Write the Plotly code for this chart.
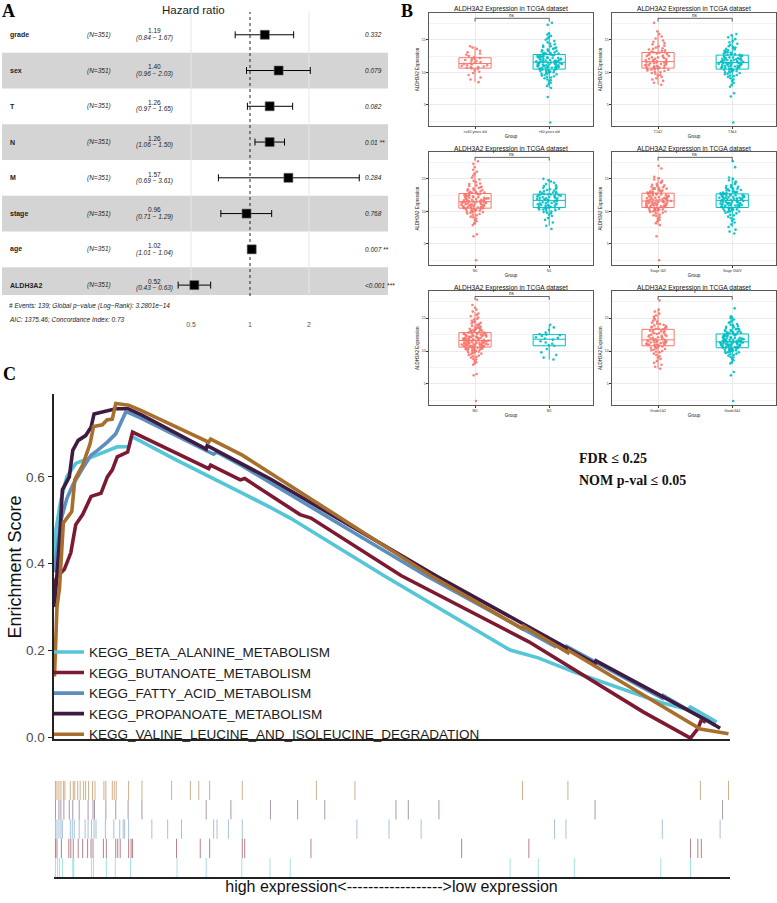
import plotly.graph_objects as go

W, H = 777, 903
def fx(px): return px / W
def fy(py): return 1 - py / H

FONT = "Liberation Sans, Arial, sans-serif"
SERIF = "Liberation Serif, Times New Roman, serif"

# ---------------- Panel A data (multivariate Cox) ----------------
VARS = ["grade", "sex", "T", "N", "M", "stage", "age", "ALDH3A2"]
N_OBS = [351, 351, 351, 351, 351, 351, 351, 351]
HR = [1.19, 1.40, 1.26, 1.26, 1.57, 0.96, 1.02, 0.52]
HR_LO = [0.84, 0.96, 0.97, 1.06, 0.69, 0.71, 1.01, 0.43]
HR_HI = [1.67, 2.03, 1.65, 1.50, 3.61, 1.29, 1.04, 0.63]
PVAL = ["0.332", "0.079", "0.082", "0.01 **", "0.284", "0.768", "0.007 **", "<0.001 ***"]
HR_TICKS = [0.5, 1, 2]
FOOT1 = "# Events: 139; Global p\u2212value (Log\u2212Rank): 3.2801e\u221214"
FOOT2 = "AIC: 1375.46; Concordance Index: 0.73"

# ---------------- Panel B data (ALDH3A2 expression by group) ----------------
AGE_LE60 = [8.5, 8.9, 9.2, 9.6, 9.9, 10.1, 10.3, 10.5, 10.6,
            10.7, 10.8, 10.8, 10.9, 11.0, 11.1, 11.1, 11.2, 11.3,
            11.4, 11.5, 11.6, 11.7, 11.8, 11.9, 12.0, 12.1, 12.2,
            12.3, 12.5, 12.7, 12.9, 13.1, 13.3, 13.6, 13.8, 14.0]
AGE_GT60 = [2.3, 6.2, 7.6, 7.9, 8.2, 8.4, 8.6, 8.8, 8.9, 9.1, 9.2, 9.3, 9.4, 9.5, 9.6, 9.7, 9.8, 9.8, 9.9, 10.0,
            10.0, 10.1, 10.1, 10.2, 10.2, 10.3, 10.3, 10.4, 10.4, 10.5,
            10.5, 10.6, 10.6, 10.7, 10.7, 10.7, 10.8, 10.8, 10.8, 10.9, 10.9, 10.9, 11.0, 11.0, 11.0,
            11.1, 11.1, 11.1, 11.2, 11.2, 11.2, 11.3, 11.3, 11.3, 11.4, 11.4, 11.4, 11.5, 11.5, 11.5,
            11.6, 11.6, 11.6, 11.7, 11.7, 11.7, 11.8, 11.8, 11.8, 11.9, 11.9, 12.0, 12.0, 12.0, 12.1,
            12.1, 12.2, 12.2, 12.2, 12.3, 12.3, 12.4, 12.4, 12.4, 12.5, 12.5, 12.6, 12.6, 12.7, 12.7,
            12.8, 12.8, 12.9, 12.9, 13.0, 13.0, 13.1, 13.2, 13.3, 13.3, 13.4, 13.5, 13.6, 13.7, 13.8,
            13.9, 14.0, 14.1, 14.3, 14.4, 14.6, 14.8, 15.0, 15.2, 15.4, 15.6, 15.8, 16.0, 17.3, 17.6]
T12 = [8.1, 8.4, 8.7, 8.9, 9.1, 9.3, 9.5, 9.6, 9.8, 9.9, 10.0, 10.1, 10.2, 10.3, 10.4, 10.4, 10.5, 10.5, 10.6, 10.6,
       10.7, 10.7, 10.8, 10.8, 10.9, 10.9, 11.0, 11.0, 11.1, 11.1, 11.2, 11.2, 11.3, 11.3, 11.4, 11.4, 11.5, 11.5, 11.6, 11.6,
       11.7, 11.7, 11.8, 11.9, 11.9, 12.0, 12.1, 12.1, 12.2, 12.3, 12.3, 12.4, 12.5, 12.5, 12.6, 12.7, 12.8, 12.8, 12.9, 13.0,
       13.1, 13.1, 13.2, 13.3, 13.4, 13.5, 13.6, 13.7, 13.8, 14.0, 14.1, 14.3, 14.5, 14.7, 14.9, 15.2, 15.5, 15.9, 16.3, 17.6]
T34 = [2.3, 6.3, 6.8, 7.8, 8.1, 8.4, 8.7, 8.9, 9.1, 9.3, 9.4, 9.5, 9.6, 9.7, 9.8, 9.9, 10.0, 10.0, 10.1, 10.2, 10.2, 10.3, 10.4, 10.4, 10.5,
       10.5, 10.6, 10.6, 10.7, 10.7, 10.8, 10.8, 10.8, 10.9, 10.9, 11.0, 11.0, 11.0, 11.1, 11.1, 11.2, 11.2, 11.2, 11.3, 11.3, 11.3, 11.4, 11.4, 11.4, 11.5,
       11.5, 11.6, 11.6, 11.6, 11.7, 11.7, 11.8, 11.8, 11.8, 11.9, 11.9, 12.0, 12.0, 12.0, 12.1, 12.1, 12.2, 12.2, 12.3, 12.3, 12.4, 12.4, 12.5, 12.5, 12.6,
       12.7, 12.7, 12.8, 12.8, 12.9, 13.0, 13.0, 13.1, 13.2, 13.3, 13.4, 13.5, 13.6, 13.7, 13.8, 13.9, 14.0, 14.2, 14.4, 14.6, 14.8, 15.1, 15.4, 15.7, 15.9]
N0 = [2.5, 6.2, 6.5, 7.9, 8.2, 8.5, 8.7, 8.9, 9.1, 9.2, 9.4, 9.5, 9.6, 9.7, 9.8, 9.9, 9.9, 10.0, 10.0, 10.1, 10.1, 10.2, 10.2, 10.3, 10.3, 10.4, 10.4, 10.4, 10.5, 10.5,
      10.5, 10.6, 10.6, 10.6, 10.7, 10.7, 10.7, 10.8, 10.8, 10.8, 10.9, 10.9, 10.9, 11.0, 11.0, 11.0, 11.1, 11.1, 11.1, 11.2, 11.2, 11.2, 11.3, 11.3, 11.3, 11.4, 11.4, 11.4, 11.5, 11.5,
      11.5, 11.6, 11.6, 11.6, 11.7, 11.7, 11.7, 11.8, 11.8, 11.9, 11.9, 11.9, 12.0, 12.0, 12.0, 12.1, 12.1, 12.2, 12.2, 12.2, 12.3, 12.3, 12.4, 12.4, 12.5, 12.5, 12.6, 12.6, 12.7, 12.7,
      12.8, 12.8, 12.9, 12.9, 13.0, 13.0, 13.1, 13.2, 13.3, 13.3, 13.4, 13.5, 13.6, 13.7, 13.8, 13.9, 14.0, 14.2, 14.3, 14.5, 14.7, 14.9, 15.2, 15.5, 15.8, 16.1, 16.4, 16.8, 17.3, 17.7]
N1 = [7.3, 7.8, 8.3, 8.7, 9.0, 9.3, 9.5, 9.7, 9.8, 9.9, 10.0, 10.1, 10.2, 10.3, 10.3, 10.4, 10.4, 10.5, 10.5, 10.6,
      10.6, 10.7, 10.7, 10.8, 10.8, 10.9, 10.9, 11.0, 11.0, 11.1, 11.1, 11.2, 11.2, 11.3, 11.3, 11.4, 11.5, 11.5, 11.6, 11.7,
      11.7, 11.8, 11.8, 11.9, 11.9, 12.0, 12.0, 12.1, 12.1, 12.2, 12.2, 12.3, 12.3, 12.4, 12.4, 12.5, 12.5, 12.6, 12.6, 12.6,
      12.7, 12.8, 12.8, 12.9, 13.0, 13.0, 13.1, 13.2, 13.3, 13.4, 13.5, 13.6, 13.7, 13.9, 14.0, 14.2, 14.4, 14.6, 14.8, 15.0]
STAGE12 = [2.5, 6.2, 7.9, 8.2, 8.5, 8.7, 8.9, 9.1, 9.3, 9.4, 9.5, 9.7, 9.8, 9.9, 10.0, 10.0, 10.1, 10.1, 10.2, 10.2, 10.3, 10.3, 10.4, 10.4, 10.5, 10.5, 10.6,
           10.6, 10.7, 10.7, 10.7, 10.8, 10.8, 10.8, 10.9, 10.9, 10.9, 11.0, 11.0, 11.0, 11.1, 11.1, 11.1, 11.2, 11.2, 11.3, 11.3, 11.3, 11.4, 11.4, 11.4, 11.5, 11.5, 11.6, 11.6,
           11.6, 11.7, 11.7, 11.7, 11.8, 11.8, 11.9, 11.9, 11.9, 12.0, 12.0, 12.1, 12.1, 12.1, 12.2, 12.2, 12.3, 12.3, 12.4, 12.4, 12.5, 12.5, 12.6, 12.6, 12.7, 12.7, 12.8, 12.8,
           12.9, 12.9, 13.0, 13.0, 13.1, 13.2, 13.2, 13.3, 13.4, 13.5, 13.5, 13.6, 13.6, 13.7, 13.8, 13.9, 14.0, 14.1, 14.2, 14.4, 14.5, 14.7, 14.9, 15.1, 15.3, 16.6, 17.0]
STAGE34 = [6.6, 6.9, 7.2, 7.6, 8.0, 8.3, 8.6, 8.8, 9.0, 9.2, 9.4, 9.5, 9.7, 9.8, 9.9, 10.0, 10.0, 10.1, 10.2, 10.2, 10.3, 10.3, 10.4, 10.4, 10.5, 10.5, 10.6,
           10.6, 10.7, 10.7, 10.7, 10.8, 10.8, 10.9, 10.9, 10.9, 11.0, 11.0, 11.0, 11.1, 11.1, 11.2, 11.2, 11.2, 11.3, 11.3, 11.3, 11.4, 11.4, 11.5, 11.5, 11.5, 11.6, 11.6, 11.7,
           11.7, 11.8, 11.8, 11.8, 11.9, 11.9, 11.9, 12.0, 12.0, 12.0, 12.1, 12.1, 12.1, 12.2, 12.2, 12.2, 12.3, 12.3, 12.3, 12.4, 12.4, 12.5, 12.5, 12.5, 12.6, 12.6, 12.6, 12.7,
           12.7, 12.8, 12.8, 12.9, 12.9, 13.0, 13.0, 13.1, 13.2, 13.2, 13.3, 13.4, 13.5, 13.5, 13.6, 13.7, 13.8, 13.9, 14.0, 14.2, 14.4, 14.6, 14.8, 15.0, 15.2, 16.8, 17.7]
M0 = [2.4, 6.3, 6.5, 7.9, 8.1, 8.3, 8.5, 8.7, 8.8, 9.0, 9.1, 9.2, 9.3, 9.4, 9.5, 9.6, 9.7, 9.8, 9.8, 9.9, 9.9, 10.0, 10.0, 10.1, 10.1, 10.2, 10.2, 10.3, 10.3, 10.3, 10.4, 10.4, 10.4, 10.5, 10.5, 10.5, 10.6,
      10.6, 10.6, 10.7, 10.7, 10.7, 10.7, 10.8, 10.8, 10.8, 10.8, 10.9, 10.9, 10.9, 10.9, 11.0, 11.0, 11.0, 11.0, 11.1, 11.1, 11.1, 11.1, 11.2, 11.2, 11.2, 11.3, 11.3, 11.3, 11.3, 11.4, 11.4, 11.4, 11.5, 11.5, 11.5, 11.5, 11.6, 11.6,
      11.6, 11.7, 11.7, 11.7, 11.7, 11.8, 11.8, 11.8, 11.9, 11.9, 11.9, 11.9, 12.0, 12.0, 12.0, 12.1, 12.1, 12.1, 12.2, 12.2, 12.2, 12.3, 12.3, 12.3, 12.4, 12.4, 12.4, 12.5, 12.5, 12.5, 12.6, 12.6, 12.6, 12.7, 12.7, 12.7, 12.8, 12.8,
      12.9, 12.9, 12.9, 13.0, 13.0, 13.1, 13.1, 13.2, 13.2, 13.3, 13.3, 13.4, 13.4, 13.5, 13.6, 13.6, 13.7, 13.8, 13.9, 14.0, 14.1, 14.2, 14.3, 14.4, 14.5, 14.6, 14.8, 14.9, 15.1, 15.3, 15.5, 15.7, 16.0, 16.3, 16.6, 17.0, 17.8]
M1 = [8.7, 9.0, 9.4, 9.8, 10.3, 10.8, 10.9, 11.1, 11.3, 11.5, 11.7, 11.9, 12.0, 12.1, 12.3, 12.4, 12.5, 12.6, 12.8, 13.2, 13.6, 14.0]
GRADE12 = [7.3, 7.6, 7.9, 8.2, 8.5, 8.8, 9.0, 9.2, 9.4, 9.6, 9.8, 9.9, 10.0, 10.1, 10.2, 10.3, 10.4, 10.5, 10.6, 10.6, 10.7, 10.8,
           10.8, 10.9, 10.9, 10.9, 11.0, 11.0, 11.0, 11.1, 11.1, 11.1, 11.2, 11.2, 11.3, 11.3, 11.3, 11.4, 11.4, 11.5, 11.5, 11.5, 11.6, 11.6, 11.7,
           11.7, 11.8, 11.9, 11.9, 12.0, 12.1, 12.1, 12.2, 12.3, 12.3, 12.4, 12.5, 12.5, 12.6, 12.7, 12.7, 12.8, 12.9, 13.0, 13.0, 13.1, 13.2, 13.3,
           13.4, 13.4, 13.5, 13.6, 13.6, 13.7, 13.8, 13.9, 14.0, 14.1, 14.2, 14.3, 14.5, 14.6, 14.8, 15.0, 15.2, 15.4, 15.7, 16.0, 16.3, 17.7]
GRADE34 = [2.4, 6.3, 6.8, 8.1, 8.3, 8.6, 8.8, 9.0, 9.1, 9.3, 9.4, 9.5, 9.6, 9.7, 9.8, 9.8, 9.9, 9.9, 10.0, 10.0, 10.1, 10.1, 10.2, 10.2, 10.3, 10.3, 10.4, 10.4, 10.5, 10.5,
           10.5, 10.6, 10.6, 10.6, 10.7, 10.7, 10.7, 10.8, 10.8, 10.8, 10.9, 10.9, 10.9, 10.9, 11.0, 11.0, 11.0, 11.1, 11.1, 11.1, 11.2, 11.2, 11.2, 11.3, 11.3, 11.3, 11.3, 11.4, 11.4, 11.4,
           11.4, 11.5, 11.5, 11.5, 11.6, 11.6, 11.6, 11.7, 11.7, 11.7, 11.8, 11.8, 11.8, 11.9, 11.9, 11.9, 12.0, 12.0, 12.0, 12.1, 12.1, 12.2, 12.2, 12.3, 12.3, 12.4, 12.4, 12.5, 12.5, 12.6,
           12.6, 12.7, 12.7, 12.8, 12.8, 12.9, 12.9, 13.0, 13.0, 13.1, 13.2, 13.2, 13.3, 13.4, 13.4, 13.5, 13.6, 13.7, 13.8, 13.9, 14.0, 14.1, 14.3, 14.4, 14.6, 14.8, 15.0, 15.1, 15.3, 16.5]

B_CATS = [["<=60 years old", ">60 years old"], ["T1&2", "T3&4"], ["N0", "N1"],
          ["Stage I&II", "Stage III&IV"], ["M0", "M1"], ["Grade1&2", "Grade3&4"]]
B_GROUPS = [(AGE_LE60, AGE_GT60), (T12, T34), (N0, N1), (STAGE12, STAGE34), (M0, M1), (GRADE12, GRADE34)]
B_SIG = ["ns", "ns", "ns", "ns", "ns", "*"]
B_TITLE = "ALDH3A2 Expression in TCGA dataset"
B_YTICKS = [5, 10, 15]

# ---------------- Panel C data (GSEA running enrichment scores) ----------------
GSEA_NAMES = ["KEGG_BETA_ALANINE_METABOLISM", "KEGG_BUTANOATE_METABOLISM", "KEGG_FATTY_ACID_METABOLISM",
              "KEGG_PROPANOATE_METABOLISM", "KEGG_VALINE_LEUCINE_AND_ISOLEUCINE_DEGRADATION"]
ES_BETA_X = [0, 3, 13, 25, 43, 77, 107, 127, 151, 156, 248, 307, 379, 436, 477, 667, 922, 979, 1052, 1227, 1282, 1287, 1340]
ES_BETA_Y = [0.40, 0.479, 0.547, 0.60, 0.631, 0.646, 0.661, 0.669, 0.670, 0.693, 0.638, 0.605, 0.563, 0.530, 0.505, 0.372, 0.201, 0.183, 0.150, 0.080, 0.064, 0.070, 0.035]
ES_BUTA_X = [0, 2, 5, 14, 20, 33, 43, 57, 74, 94, 107, 117, 127, 148, 158, 312, 316, 376, 385, 497, 519, 702, 824, 960, 1192, 1287, 1302, 1309, 1318]
ES_BUTA_Y = [0.33, 0.36, 0.37, 0.38, 0.387, 0.425, 0.490, 0.513, 0.555, 0.562, 0.600, 0.616, 0.646, 0.657, 0.703, 0.619, 0.627, 0.593, 0.596, 0.513, 0.505, 0.372, 0.300, 0.220, 0.058, -0.002, 0.020, 0.040, 0.035]
ES_FATTY_X = [0, 8, 13, 25, 37, 53, 74, 87, 107, 124, 134, 144, 150, 175, 322, 329, 380, 752, 1012, 1014, 1035, 1037, 1230, 1232, 1337]
ES_FATTY_Y = [0.38, 0.46, 0.50, 0.55, 0.581, 0.612, 0.650, 0.661, 0.680, 0.699, 0.722, 0.749, 0.748, 0.735, 0.652, 0.657, 0.625, 0.372, 0.210, 0.216, 0.203, 0.209, 0.090, 0.096, 0.027]
ES_PROP_X = [0, 10, 16, 23, 30, 37, 48, 63, 74, 80, 104, 124, 149, 177, 307, 309, 437, 772, 1094, 1096, 1322, 1347]
ES_PROP_Y = [0.30, 0.45, 0.570, 0.584, 0.600, 0.661, 0.684, 0.695, 0.714, 0.745, 0.752, 0.757, 0.757, 0.742, 0.664, 0.672, 0.595, 0.372, 0.170, 0.176, 0.038, 0.021]
ES_VAL_X = [0, 5, 10, 18, 35, 41, 57, 72, 79, 97, 106, 117, 124, 150, 177, 312, 316, 380, 762, 947, 949, 1039, 1041, 1307, 1364]
ES_VAL_Y = [0.14, 0.30, 0.342, 0.494, 0.520, 0.593, 0.627, 0.676, 0.716, 0.720, 0.731, 0.733, 0.769, 0.765, 0.752, 0.680, 0.687, 0.650, 0.372, 0.250, 0.256, 0.195, 0.200, 0.019, 0.008]
HITS_BETA = [2, 6, 10, 16, 37, 39, 75, 79, 105, 123, 154, 248, 307, 379, 436, 477, 922, 979, 1052, 1227, 1287]
HITS_BUTA = [2, 5, 14, 29, 33, 38, 48, 57, 67, 74, 78, 99, 105, 124, 128, 133, 150, 155, 158, 247, 295, 314, 380, 385, 519, 824, 960, 1287, 1302, 1309]
HITS_FATTY = [2, 5, 9, 13, 16, 32, 36, 40, 50, 62, 68, 75, 80, 84, 103, 120, 132, 139, 142, 150, 197, 229, 257, 322, 329, 352, 380, 612, 677, 742, 1012, 1035, 1230, 1347]
HITS_PROP = [2, 9, 13, 19, 30, 37, 50, 68, 78, 81, 104, 124, 149, 177, 307, 357, 437, 492, 547, 691, 716, 778, 1094, 1352]
HITS_VAL = [2, 5, 9, 13, 18, 21, 32, 38, 41, 47, 52, 59, 63, 69, 77, 82, 100, 104, 117, 121, 125, 150, 177, 237, 275, 292, 314, 380, 530, 608, 947, 1039, 1307, 1364]
N_GENES = 1364
ES_TICKS = [0.0, 0.2, 0.4, 0.6]
RANK_LABEL = "high expression<------------------>low expression"

# ---------------- styles ----------------
RED, CYAN = "#F8766D", "#00BFC4"
GSEA_COLORS = ["#55C6D8", "#7C1A31", "#5C8FBF", "#3E1B41", "#A86E2D"]
RUG_COLORS = ["rgba(85,198,216,0.55)", "rgba(124,26,49,0.55)", "rgba(92,143,191,0.55)",
              "rgba(62,27,65,0.45)", "rgba(168,110,45,0.55)"]

fig = go.Figure()
shapes, annos = [], []

# ================= Panel A =================
rows = list(range(len(VARS)))
fig.add_trace(go.Scatter(
    x=HR, y=rows, mode="markers", xaxis="x", yaxis="y", showlegend=False, hoverinfo="skip",
    marker=dict(symbol="square", size=9, color="black", line=dict(color="#666", width=0.6)),
    error_x=dict(type="data", symmetric=False,
                 array=[h - m for h, m in zip(HR_HI, HR)],
                 arrayminus=[m - l for m, l in zip(HR, HR_LO)],
                 color="black", thickness=1, width=3.5)))

for i in rows:
    if i % 2 == 1:
        shapes.append(dict(type="rect", xref="paper", yref="y", x0=fx(2), x1=fx(388),
                           y0=i - 0.5, y1=(i + 0.5 if i < 7 else i + 0.28),
                           fillcolor="#d4d4d4", line=dict(width=0), layer="below"))
for v in (0.5, 2):
    shapes.append(dict(type="line", xref="x", yref="paper", x0=v, x1=v, y0=fy(298), y1=fy(12),
                       line=dict(color="#e6e6e6", width=1), layer="below"))
shapes.append(dict(type="line", xref="x", yref="paper", x0=1, x1=1, y0=fy(298), y1=fy(12),
                   line=dict(color="#222", width=1, dash="dot"), layer="below"))

small = dict(family=FONT, size=6.5, color="#222")
for i, v in enumerate(VARS):
    annos.append(dict(xref="paper", yref="y", x=fx(8), y=i, text="<b>%s</b>" % v, showarrow=False,
                      xanchor="left", yanchor="middle", font=dict(family=FONT, size=7, color="#222")))
    annos.append(dict(xref="paper", yref="y", x=fx(85), y=i, text="<i>(N=%d)</i>" % N_OBS[i], showarrow=False,
                      xanchor="left", yanchor="middle", font=small))
    annos.append(dict(xref="paper", yref="y", x=fx(154), y=i, yshift=3.8, text="%.2f" % HR[i], showarrow=False,
                      xanchor="center", yanchor="middle", font=small))
    annos.append(dict(xref="paper", yref="y", x=fx(154), y=i, yshift=-3.2,
                      text="<i>(%.2f \u2212 %.2f)</i>" % (HR_LO[i], HR_HI[i]), showarrow=False,
                      xanchor="center", yanchor="middle", font=small))
    annos.append(dict(xref="paper", yref="y", x=fx(363), y=i, text="<i>%s</i>" % PVAL[i], showarrow=False,
                      xanchor="left", yanchor="middle", font=small))
annos.append(dict(xref="paper", yref="paper", x=fx(193), y=fy(10), text="Hazard ratio", showarrow=False,
                  xanchor="center", yanchor="middle", font=dict(family=FONT, size=11.5, color="#222")))
annos.append(dict(xref="paper", yref="paper", x=fx(7), y=fy(308.5), text="<i>%s</i>" % FOOT1, showarrow=False,
                  xanchor="left", yanchor="middle", font=small))
annos.append(dict(xref="paper", yref="paper", x=fx(7), y=fy(321.5), text="<i>%s</i>" % FOOT2, showarrow=False,
                  xanchor="left", yanchor="middle", font=small))

layout_axes = {}
layout_axes["xaxis"] = dict(domain=[fx(140), fx(385)], anchor="y", type="log",
                            range=[(140 - 250) / 196.0, (385 - 250) / 196.0],
                            tickvals=HR_TICKS, ticktext=[str(t) for t in HR_TICKS],
                            showgrid=False, zeroline=False, showline=False,
                            ticks="outside", ticklen=15, tickcolor="rgba(0,0,0,0)",
                            tickfont=dict(family=FONT, size=7, color="#555"))
layout_axes["yaxis"] = dict(domain=[fy(305), fy(17)], anchor="x", range=[7.5, -0.5], visible=False)

# ================= Panel B =================
COLS = [(429, 593), (612, 776)]
ROWS = [(13, 127), (153, 267), (293, 408)]
YR = [1.74, 19.13]
for k in range(6):
    n = k + 2
    c0, c1 = COLS[k % 2]
    r0, r1 = ROWS[k // 2]
    cats = B_CATS[k]
    for g, col in zip(range(2), (RED, CYAN)):
        vals = B_GROUPS[k][g]
        fig.add_trace(go.Box(
            x=[cats[g]] * len(vals), y=vals, xaxis="x%d" % n, yaxis="y%d" % n,
            boxpoints="all", jitter=0.85, pointpos=0, whiskerwidth=0,
            marker=dict(size=2.6, color=col, opacity=0.9),
            line=dict(color=col, width=1), fillcolor="rgba(255,255,255,0)",
            showlegend=False, hoverinfo="skip"))
    frame = dict(showline=True, mirror=True, linecolor="#5a5a5a", linewidth=1.3, zeroline=False)
    layout_axes["xaxis%d" % n] = dict(domain=[fx(c0), fx(c1)], anchor="y%d" % n, type="category",
                                      categoryorder="array", categoryarray=cats, range=[-0.62, 1.59],
                                      showgrid=True, gridcolor="#ebebeb", gridwidth=0.6,
                                      ticks="outside", ticklen=1.5, tickwidth=0.5, tickcolor="#333",
                                      tickfont=dict(family=FONT, size=3.5, color="#333"),
                                      title=dict(text="Group", font=dict(family=FONT, size=4.5, color="#111"), standoff=1),
                                      **frame)
    layout_axes["yaxis%d" % n] = dict(domain=[fy(r1), fy(r0)], anchor="x%d" % n, range=YR,
                                      tickvals=B_YTICKS, showgrid=True, gridcolor="#ebebeb", gridwidth=0.6,
                                      minor=dict(dtick=2.5, tick0=0, showgrid=True, gridcolor="#f3f3f3", gridwidth=0.5),
                                      ticks="outside", ticklen=1.5, tickwidth=0.5, tickcolor="#333",
                                      tickfont=dict(family=FONT, size=3.5, color="#333"),
                                      title=dict(text="ALDH3A2 Expression", font=dict(family=FONT, size=4.5, color="#111"), standoff=2),
                                      **frame)
    annos.append(dict(xref="paper", yref="paper", x=fx((c0 + c1) / 2), y=fy(r0 - 3.5), text=B_TITLE,
                      showarrow=False, xanchor="center", yanchor="middle",
                      font=dict(family=FONT, size=6.6, color="#111")))
    xr, yr = "x%d" % n, "y%d" % n
    for (a0, b0, a1, b1) in [(0, 17.8, 0, 18.3), (0, 18.3, 1, 18.3), (1, 18.3, 1, 17.8)]:
        shapes.append(dict(type="line", xref=xr, yref=yr, x0=a0, y0=b0, x1=a1, y1=b1,
                           line=dict(color="#222", width=0.7)))
    annos.append(dict(xref=xr, yref=yr, x=0.5, y=18.8, text=B_SIG[k], showarrow=False,
                      font=dict(family=FONT, size=4.5, color="#222")))

# ================= Panel C =================
ES_X = [ES_BETA_X, ES_BUTA_X, ES_FATTY_X, ES_PROP_X, ES_VAL_X]
ES_Y = [ES_BETA_Y, ES_BUTA_Y, ES_FATTY_Y, ES_PROP_Y, ES_VAL_Y]
HITS = [HITS_BETA, HITS_BUTA, HITS_FATTY, HITS_PROP, HITS_VAL]
for i in range(5):
    fig.add_trace(go.Scatter(x=ES_X[i], y=ES_Y[i], mode="lines", name=GSEA_NAMES[i],
                             xaxis="x8", yaxis="y8", line=dict(color=GSEA_COLORS[i], width=3.6),
                             hoverinfo="skip", legendgroup="g%d" % i))
for i in range(5):
    xs, ys = [], []
    for h in HITS[i]:
        xs += [h, h, None]
        ys += [i, i + 1, None]
    fig.add_trace(go.Scatter(x=xs, y=ys, mode="lines", xaxis="x9", yaxis="y9", showlegend=False,
                             line=dict(color=RUG_COLORS[i], width=1), hoverinfo="skip"))

layout_axes["xaxis8"] = dict(domain=[fx(53.5), fx(729.5)], anchor="y8", range=[-2, N_GENES + 2],
                             showline=True, linecolor="#222", linewidth=2, showticklabels=False,
                             ticks="", showgrid=False, zeroline=False)
layout_axes["yaxis8"] = dict(domain=[fy(744.4), fy(397)], anchor="x8", range=[-0.005, 0.79],
                             showline=True, linecolor="#222", linewidth=2, ticks="outside", ticklen=4,
                             tickwidth=1, tickcolor="#222", tickvals=ES_TICKS,
                             ticktext=["%.1f" % t for t in ES_TICKS],
                             tickfont=dict(family=FONT, size=13.5, color="#4d4d4d"),
                             title=dict(text="Enrichment Score", font=dict(family=FONT, size=18, color="#111"), standoff=0),
                             showgrid=False, zeroline=False)
layout_axes["xaxis9"] = dict(domain=[fx(53.5), fx(729.5)], anchor="y9", range=[-2, N_GENES + 2],
                             showline=True, linecolor="#222", linewidth=2, showticklabels=False,
                             ticks="", showgrid=False, zeroline=False,
                             title=dict(text=RANK_LABEL,
                                        font=dict(family=FONT, size=16, color="#111"), standoff=2))
layout_axes["yaxis9"] = dict(domain=[fy(883.3), fy(786)], anchor="x9", range=[0, 5], visible=False)

annos.append(dict(xref="paper", yref="paper", x=fx(577), y=fy(461.7), text="<b>FDR \u2264 0.25</b>",
                  showarrow=False, xanchor="left", yanchor="middle",
                  font=dict(family=SERIF, size=14, color="#111")))
annos.append(dict(xref="paper", yref="paper", x=fx(577), y=fy(483.3), text="<b>NOM p-val \u2264 0.05</b>",
                  showarrow=False, xanchor="left", yanchor="middle",
                  font=dict(family=SERIF, size=14, color="#111")))

# panel letters
for t, x, y in (("A", 8, 11), ("B", 407, 11), ("C", 9, 377)):
    annos.append(dict(xref="paper", yref="paper", x=fx(x), y=fy(y), text="<b>%s</b>" % t, showarrow=False,
                      xanchor="center", yanchor="middle", font=dict(family=SERIF, size=18, color="#000")))

fig.update_layout(
    width=W, height=H, autosize=False, margin=dict(l=0, r=0, t=0, b=0),
    paper_bgcolor="white", plot_bgcolor="rgba(0,0,0,0)",
    font=dict(family=FONT, color="#222"),
    boxmode="overlay", boxgap=0.38,
    shapes=shapes, annotations=annos,
    legend=dict(x=fx(49), y=fy(641), xanchor="left", yanchor="top", bgcolor="rgba(0,0,0,0)",
                font=dict(family=FONT, size=13.5, color="#1a1a1a"), tracegroupgap=0),
    **layout_axes)

fig.write_html("out.html", config={"displayModeBar": False},
               post_script="document.body.style.margin='0';document.documentElement.style.overflow='hidden';")
